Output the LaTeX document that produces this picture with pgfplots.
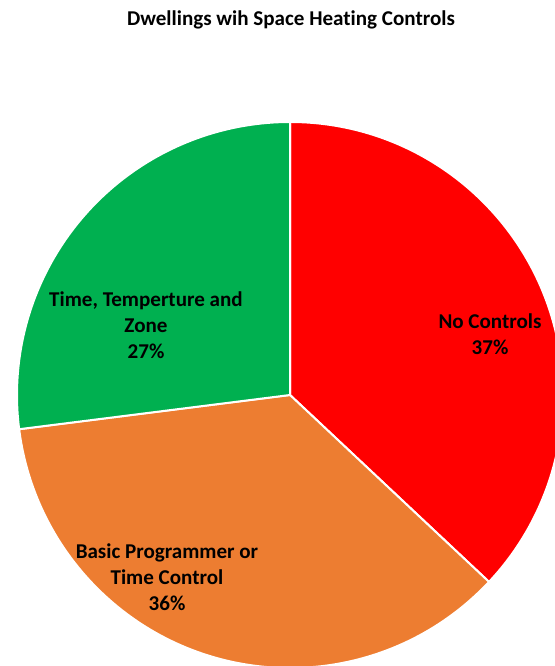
\documentclass[border=0pt]{standalone}
\usepackage{pgfplots}
\pgfplotsset{compat=1.18}
\usepackage{pgfplotstable}
\usepackage{fontspec}
\setmainfont[Ligatures={NoCommon}]{Carlito}
\definecolor{cRed}{HTML}{FF0000}
\definecolor{cOrange}{HTML}{ED7D31}
\definecolor{cGreen}{HTML}{00B050}
\pgfplotstableread{
label value
NoControls 37
Basic 36
Time 27
}\piedata
\begin{document}
\begin{tikzpicture}
\pgfplotstablegetelem{0}{value}\of\piedata \let\vA\pgfplotsretval
\pgfplotstablegetelem{1}{value}\of\piedata \let\vB\pgfplotsretval
\pgfplotstablegetelem{2}{value}\of\piedata \let\vC\pgfplotsretval
\pgfmathsetmacro{\aA}{90}
\pgfmathsetmacro{\aB}{\aA-3.6*\vA}
\pgfmathsetmacro{\aC}{\aB-3.6*\vB}
\pgfmathsetmacro{\aD}{\aC-3.6*\vC}
\begin{axis}[
  at={(0,0)}, anchor=south west,
  x=0.75pt, y=0.75pt, scale only axis,
  xmin=0, xmax=555, ymin=0, ymax=666,
  hide axis, clip=true,
]
\fill[cRed, draw=white, line width=1.5pt] (axis cs:290,271) -- ++(\aA:204.75pt) arc[start angle=\aA, end angle=\aB, radius=204.75pt] -- cycle;
\fill[cOrange, draw=white, line width=1.5pt] (axis cs:290,271) -- ++(\aB:204.75pt) arc[start angle=\aB, end angle=\aC, radius=204.75pt] -- cycle;
\fill[cGreen, draw=white, line width=1.5pt] (axis cs:290,271) -- ++(\aC:204.75pt) arc[start angle=\aC, end angle=\aD, radius=204.75pt] -- cycle;
\node[font=\bfseries\fontsize{15.8}{18}\selectfont] at (axis cs:291,646) {Dwellings wih Space Heating Controls};
\node[font=\bfseries\fontsize{15.8}{19.5}\selectfont, align=center] at (axis cs:490,332) {No Controls\\\vA\%};
\node[font=\bfseries\fontsize{15.8}{19.5}\selectfont, align=center] at (axis cs:146,341) {Time, Temperture and\\Zone\\\vC\%};
\node[font=\bfseries\fontsize{15.8}{19.5}\selectfont, align=center] at (axis cs:167,89) {Basic Programmer or\\Time Control\\\vB\%};
\end{axis}
\pgfresetboundingbox
\path (0,0) rectangle (416.25pt,499.5pt);
\end{tikzpicture}
\end{document}
